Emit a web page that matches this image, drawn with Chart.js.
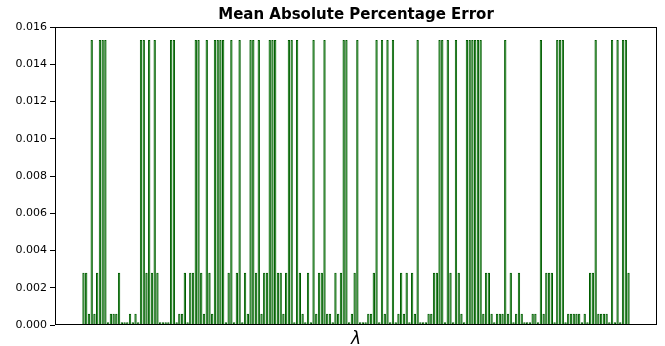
<!DOCTYPE html>
<html>
<head>
<meta charset="utf-8">
<script src="https://cdn.jsdelivr.net/npm/chart.js@4"></script>
<style>
  html, body { margin: 0; padding: 0; background: white; }
  #wrap { width: 665px; height: 346px; }
</style>
</head>
<body>
<div id="wrap"><canvas id="mapeChart"></canvas></div>
<script>
// one bar per lambda value (x ticks are hidden in the original)
var lambdaIdx = [];
for (let i = 0; i < 200; i++) lambdaIdx.push(i);

// mean absolute percentage error per lambda
var mape = [
    0.0028, 0.0028, 0.0006, 0.0153, 0.0006, 0.0028, 0.0153, 0.0153, 0.0153, 0.00015,
    0.0006, 0.0006, 0.0006, 0.0028, 0.00015, 0.00015, 0.00015, 0.0006, 0.00015, 0.0006,
    0.00015, 0.0153, 0.0153, 0.0028, 0.0153, 0.0028, 0.0153, 0.0028, 0.00015, 0.00015,
    0.00015, 0.00015, 0.0153, 0.0153, 0.00015, 0.0006, 0.0006, 0.0028, 0.00015, 0.0028,
    0.0028, 0.0153, 0.0153, 0.0028, 0.0006, 0.0153, 0.0028, 0.0006, 0.0153, 0.0153,
    0.0153, 0.0153, 0.00015, 0.0028, 0.0153, 0.00015, 0.0028, 0.0153, 0.00015, 0.0028,
    0.0006, 0.0153, 0.0153, 0.0028, 0.0153, 0.0006, 0.0028, 0.0028, 0.0153, 0.0153,
    0.0153, 0.0028, 0.0028, 0.0006, 0.0028, 0.0153, 0.0153, 0.00015, 0.0153, 0.0028,
    0.0006, 0.00015, 0.0028, 0.00015, 0.0153, 0.0006, 0.0028, 0.0028, 0.0153, 0.0006,
    0.0006, 0.00015, 0.0028, 0.0006, 0.0028, 0.0153, 0.0153, 0.00015, 0.0006, 0.0028,
    0.0153, 0.00015, 0.00015, 0.00015, 0.0006, 0.0006, 0.0028, 0.0153, 0.00015, 0.0153,
    0.0006, 0.0153, 0.00015, 0.0153, 0.00015, 0.0006, 0.0028, 0.0006, 0.0028, 0.00015,
    0.0028, 0.0006, 0.0153, 0.00015, 0.00015, 0.00015, 0.0006, 0.0006, 0.0028, 0.0028,
    0.0153, 0.0153, 0.00015, 0.0153, 0.0028, 0.00015, 0.0153, 0.0028, 0.0006, 0.00015,
    0.0153, 0.0153, 0.0153, 0.0153, 0.0153, 0.0153, 0.0006, 0.0028, 0.0028, 0.0006,
    0.00015, 0.0006, 0.0006, 0.0006, 0.0153, 0.0006, 0.0028, 0.00015, 0.0006, 0.0028,
    0.0006, 0.00015, 0.00015, 0.00015, 0.0006, 0.0006, 0.00015, 0.0153, 0.0006, 0.0028,
    0.0028, 0.0028, 0.00015, 0.0153, 0.0153, 0.0153, 0.00015, 0.0006, 0.0006, 0.0006,
    0.0006, 0.0006, 0.00015, 0.0006, 0.00015, 0.0028, 0.0028, 0.0153, 0.0006, 0.0006,
    0.0006, 0.0006, 0.00015, 0.0153, 0.00015, 0.0153, 0.00015, 0.0153, 0.0153, 0.0028
];

var yTicks = [0.000, 0.002, 0.004, 0.006, 0.008, 0.010, 0.012, 0.014, 0.016];

var font = "'DejaVu Sans', sans-serif";

// matplotlib style box round the plot area
var frame = {
    id: 'frame',
    afterDraw(chart) {
        var a = chart.chartArea, c = chart.ctx;
        c.save();
        c.strokeStyle = '#000';
        c.lineWidth = 1;
        c.strokeRect(Math.round(a.left) + 0.5, Math.round(a.top) + 0.5,
            Math.round(a.right - a.left) - 1, Math.round(a.bottom - a.top) - 1);
        c.restore();
    }
};

var points = lambdaIdx.map((x, i) => ({ x: x, y: mape[i] }));

new Chart(document.getElementById('mapeChart'), {
    type: 'bar',
    data: {
        datasets: [{
            data: points,
            backgroundColor: '#008000',
            borderColor: '#005c00',
            borderWidth: 1,
            barPercentage: 0.86,
            categoryPercentage: 1.0
        }]
    },
    options: {
        responsive: true,
        maintainAspectRatio: false,
        animation: false,
        layout: { padding: { left: 0, right: 8, top: 0, bottom: 0 } },
        scales: {
            x: {
                type: 'linear',
                offset: false,
                min: -10.4,
                max: 209.4,
                afterFit: function (s) { s.height = 21; },
                ticks: { display: false },
                grid: { display: false },
                border: { display: false },
                title: {
                    display: true,
                    text: 'λ',
                    color: '#000',
                    font: { family: font, size: 17, style: 'italic' },
                    padding: { top: 0, bottom: -4 }
                }
            },
            // top axis only carries the title, so it centres over the plot area
            top: {
                type: 'linear',
                position: 'top',
                offset: false,
                min: 0,
                max: 1,
                afterFit: function (s) { s.height = 27; },
                ticks: { display: false },
                grid: { display: false },
                border: { display: false },
                title: {
                    display: true,
                    text: 'Mean Absolute Percentage Error',
                    color: '#000',
                    font: { family: font, size: 15, weight: 'bold' },
                    padding: { top: 6, bottom: 3 }
                }
            },
            y: {
                min: 0,
                max: 0.016,
                afterFit: function (s) { s.width = 55; },
                afterBuildTicks: function (s) { s.ticks = yTicks.map(v => ({ value: v })); },
                ticks: {
                    color: '#000',
                    padding: 3,
                    font: { family: font, size: 11 },
                    callback: function (value) { return value.toFixed(3); }
                },
                grid: {
                    drawOnChartArea: false,
                    tickLength: 5,
                    tickColor: '#000'
                },
                border: { display: false }
            }
        },
        plugins: {
            legend: { display: false },
            tooltip: { enabled: false },
            title: { display: false }
        }
    },
    plugins: [frame]
});
</script>
</body>
</html>
